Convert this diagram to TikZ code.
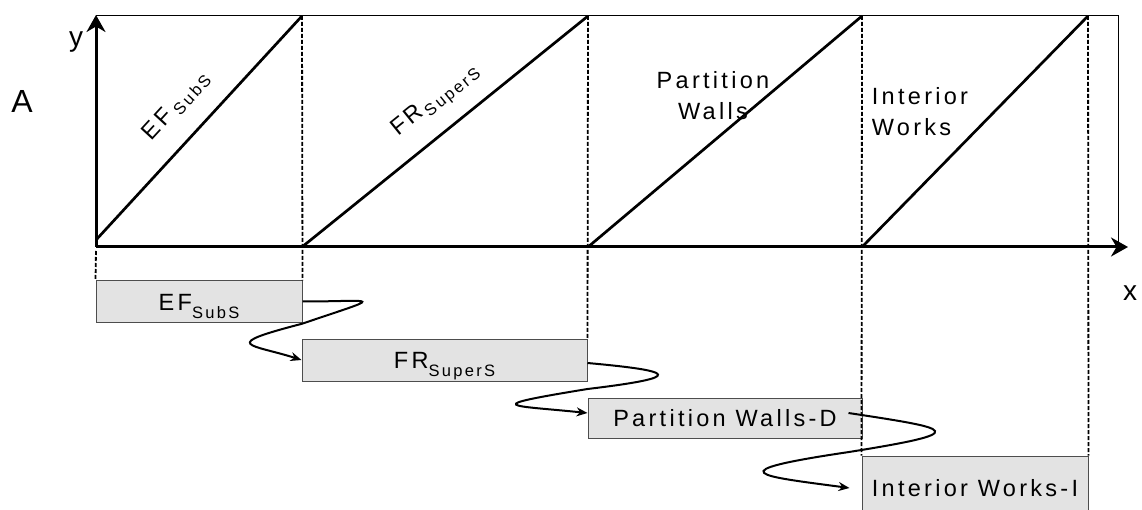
\documentclass[tikz,border=0pt]{standalone}
\usepackage{fontspec}
\setmainfont{Liberation Sans}
\newfontfamily\lblfont[LetterSpace=14]{Liberation Sans}
\usetikzlibrary{arrows.meta,calc}
\definecolor{BarFill}{HTML}{E3E3E3}
\definecolor{BarLine}{HTML}{4D4D4D}
\newcommand{\subtxt}[2][-8pt]{\raisebox{#1}{\fontsize{16.5}{18}\selectfont #2}}

\begin{document}
\begin{tikzpicture}[x=1pt,y=-1pt,>=Stealth,
    axis/.style={line width=3pt,-{Stealth[length=17pt,width=19pt]}},
    diag/.style={line width=2.7pt},
    frameline/.style={line width=1pt},
    guide/.style={line width=1.8pt,dash pattern=on 4pt off 2pt},
    bar/.style={draw=BarLine,fill=BarFill,line width=1pt,inner sep=0pt,text height=17pt,text depth=0pt,font=\lblfont\fontsize{23.5}{28}\selectfont},
    link/.style={line width=2pt,-{Stealth[length=11pt,width=9pt]}},
    lbl/.style={inner sep=0pt,font=\lblfont\fontsize{23.5}{31}\selectfont}]
  \clip (0,0) rectangle (1142,510);
  % activity bars
  \node[bar,minimum width=206pt,minimum height=41pt] (ef) at (199,301.5) {EF\subtxt{SubS}};
  \node[bar,minimum width=285pt,minimum height=42pt] (fr) at (444.5,360) {FR\subtxt{SuperS}};
  \node[bar,minimum width=274pt,minimum height=40pt] (pw) at (725,418) {Partition Walls-D};
  \node[bar,minimum width=226pt,minimum height=64pt] (iw) at (975,488) {Interior Works-I};
  % frame and axes
  \coordinate (o) at (96,247);
  \draw[frameline] (96,16) -- (1118,16) -- (1118,247);
  \draw[axis] (o) -- (96,15);
  \draw[axis] (o) -- (1128,247);
  \node[font=\fontsize{28}{30}\selectfont] (ylab) at (76,42) {y};
  \node[font=\fontsize{28}{30}\selectfont] (xlab) at (1130,293) {x};
  \node[font=\fontsize{32}{34}\selectfont] (alab) at (22,101) {A};
  % guides
  \draw[guide] (96,251) -- (ef.north west);
  \draw[guide] (302,16) -- (ef.north east);
  \draw[guide] (588,16) -- (fr.north east);
  \draw[guide] (862,16) -- (iw.north west);
  \draw[guide] (1088,16) -- (iw.north east);
  % line of balance
  \foreach \a/\s/\b in {96/240/302,302/247/588,588/247/862,862/247/1088}
    \draw[diag] (\a,\s) -- (\b,16);
  \node[lbl,rotate=47.4] (tef) at (176,106) {EF\hspace{5pt}\subtxt[-4pt]{SubS}};
  \node[lbl,rotate=38.9] (tfr) at (436,101) {FR\hspace{2pt}\subtxt[-5pt]{SuperS}};
  \node[lbl,align=center] (tpw) at (713,96) {Partition\\Walls};
  \node[lbl,align=left] (tiw) at (920,112) {Interior\\Works};
  % links
  \draw[link] (ef.east) .. controls +(75,0) and +(85,-29) .. ($(ef.east)!0.38!(fr.west)$)
    .. controls +(-85,22) and +(-50,-16) .. (fr.west);
  \draw[link] ([yshift=-3pt]fr.east) .. controls +(88,8) and +(100,-12) .. ($([yshift=-3pt]fr.east)!0.52!([yshift=5pt]pw.west)$)
    .. controls +(-110,18) and +(-78,-8) .. ([yshift=5pt]pw.west);
  \draw[link] ([xshift=-14pt,yshift=5pt]pw.east) .. controls +(105,16) and +(125,-20) .. ($([xshift=-14pt,yshift=5pt]pw.east)!0.52!([xshift=-12pt]iw.west)$)
    .. controls +(-135,20) and +(-90,-12) .. ([xshift=-12pt]iw.west);
\end{tikzpicture}
\end{document}
